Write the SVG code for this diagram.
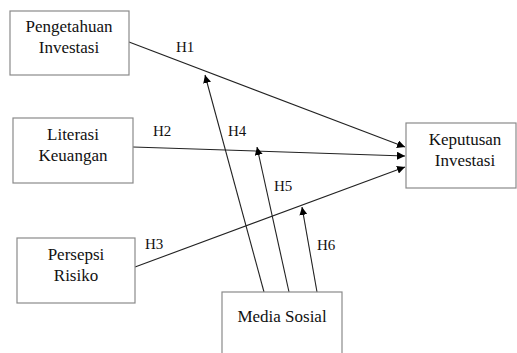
<svg xmlns="http://www.w3.org/2000/svg" width="517" height="353" viewBox="0 0 517 353">
<style>
.box{fill:#fff;stroke:#8a8a8a;stroke-width:1.2}
text{font-family:'Liberation Serif','Times New Roman',serif;fill:#111}
.t{font-size:17px;text-anchor:middle}
.l{font-size:15px}
.c{stroke:#222;stroke-width:1.1;fill:none;marker-end:url(#ah)}
</style>
<defs>
<marker id="ah" viewBox="0 0 10 10" refX="10" refY="5" markerWidth="8" markerHeight="8" markerUnits="userSpaceOnUse" orient="auto">
<path d="M0,0 L10,5 L0,10 z" fill="#000"/>
</marker>
</defs>
<rect width="517" height="353" fill="#fff"/>
<g id="connectors">
<line class="c" x1="129" y1="42" x2="405" y2="147"/>
<line class="c" x1="133" y1="147" x2="405" y2="156"/>
<line class="c" x1="135" y1="267" x2="405" y2="167"/>
<line class="c" x1="264" y1="292" x2="205" y2="75"/>
<line class="c" x1="289" y1="292" x2="257" y2="147"/>
<line class="c" x1="317" y1="292" x2="302" y2="207"/>
<text class="l" x="176" y="52">H1</text>
<text class="l" x="153" y="136">H2</text>
<text class="l" x="145" y="249">H3</text>
<text class="l" x="228" y="136">H4</text>
<text class="l" x="274" y="191">H5</text>
<text class="l" x="317" y="250">H6</text>
</g>
<g id="pengetahuan">
<rect class="box" x="10" y="11" width="119" height="64"/>
<text class="t" x="69" y="32">Pengetahuan</text>
<text class="t" x="69" y="53">Investasi</text>
</g>
<g id="literasi">
<rect class="box" x="13" y="118" width="120" height="65"/>
<text class="t" x="73" y="140">Literasi</text>
<text class="t" x="73" y="161">Keuangan</text>
</g>
<g id="persepsi">
<rect class="box" x="17" y="238" width="118" height="65"/>
<text class="t" x="76" y="260">Persepsi</text>
<text class="t" x="76" y="281">Risiko</text>
</g>
<g id="keputusan">
<rect class="box" x="406" y="123" width="110" height="65"/>
<text class="t" x="465" y="145">Keputusan</text>
<text class="t" x="465" y="166">Investasi</text>
</g>
<g id="media">
<rect class="box" x="222" y="292" width="120" height="70"/>
<text class="t" x="282" y="322">Media Sosial</text>
</g>
</svg>
